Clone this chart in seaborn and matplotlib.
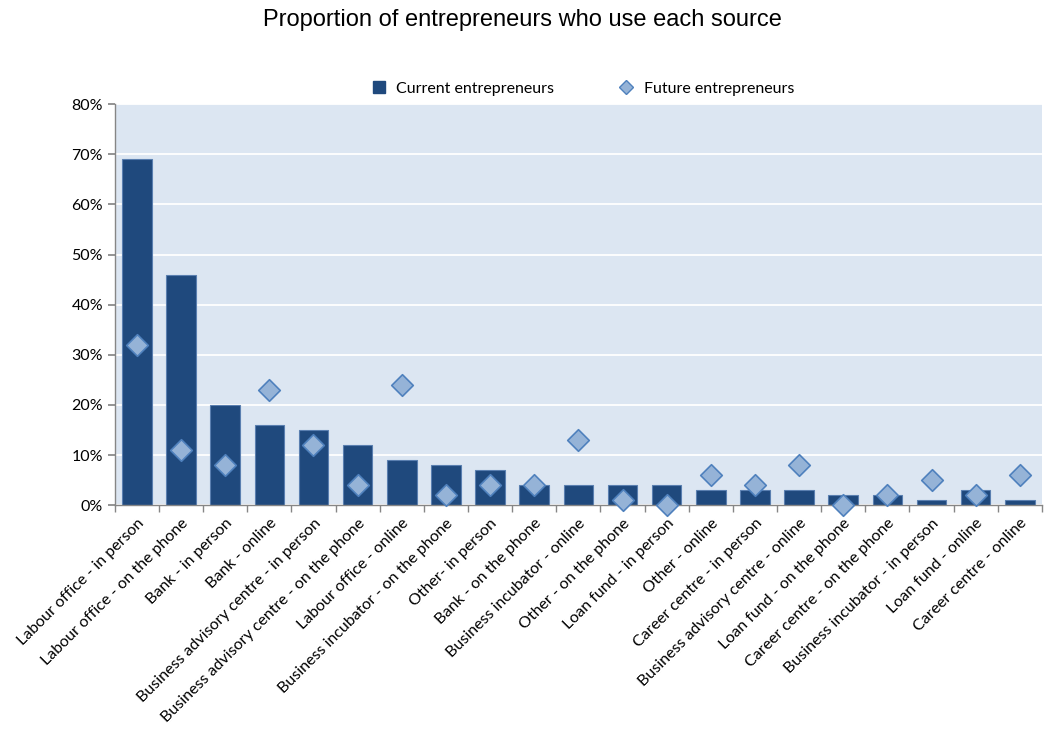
import numpy as np
import pandas as pd
import matplotlib
matplotlib.use("Agg")
import matplotlib.pyplot as plt
from matplotlib.lines import Line2D
from matplotlib.ticker import PercentFormatter, FixedLocator
import seaborn as sns

sources = [
    "Labour office - in person", "Labour office - on the phone", "Bank - in person",
    "Bank - online", "Business advisory centre - in person",
    "Business advisory centre - on the phone", "Labour office - online",
    "Business incubator - on the phone", "Other- in person", "Bank - on the phone",
    "Business incubator - online", "Other - on the phone", "Loan fund - in person",
    "Other - online", "Career centre - in person", "Business advisory centre - online",
    "Loan fund - on the phone", "Career centre - on the phone",
    "Business incubator - in person", "Loan fund - online", "Career centre - online",
]
current = [69, 46, 20, 16, 15, 12, 9, 8, 7, 4, 4, 4, 4, 3, 3, 3, 2, 2, 1, 3, 1]
future = [32, 11, 8, 23, 12, 4, 24, 2, 4, 4, 13, 1, 0, 6, 4, 8, 0, 2, 5, 2, 6]

df = pd.DataFrame({"source": sources, "current": current, "future": future})

sns.set_theme(style="white")
plt.rcParams['font.family'] = ['Lato', 'DejaVu Sans']
plt.rcParams['text.color'] = 'black'
plt.rcParams['xtick.color'] = 'black'
plt.rcParams['ytick.color'] = 'black'

dark = "#1F497D"
light = "#95B3D7"
edge = "#4F81BD"

fig = plt.figure(figsize=(10.44, 7.29), dpi=100)
ax = fig.add_axes([0.110, 0.307, 0.888, 0.550])
ax.set_facecolor("#DCE6F2")

sns.barplot(data=df, x="source", y="current", order=sources, color=dark,
            width=0.67, edgecolor="#5A7FB0", linewidth=0.8, saturation=1, ax=ax, zorder=2)
sns.stripplot(data=df, x="source", y="future", order=sources, jitter=False,
              marker="D", size=11, color=light, edgecolor=edge, linewidth=1.2,
              ax=ax, zorder=3, clip_on=False)

ax.set_ylim(0, 80)
ax.set_xlim(-0.5, len(sources) - 0.5)
ax.yaxis.set_major_locator(FixedLocator(np.arange(0, 81, 10)))
ax.yaxis.set_major_formatter(PercentFormatter(decimals=0))
ax.grid(axis="y", color="white", linewidth=1.3, zorder=1)
ax.set_axisbelow(True)

ax.set_xlabel("")
ax.set_ylabel("")
ax.set_xticks(range(len(sources)))
ax.set_xticklabels(sources, rotation=45, ha="right", rotation_mode="anchor", fontsize=11.5)
ax.xaxis.set_minor_locator(FixedLocator(np.arange(-0.5, len(sources), 1)))
ax.tick_params(axis="x", which="major", length=0, pad=8)
ax.tick_params(axis="x", which="minor", length=5, color="#868686", direction="out", bottom=True)
ax.tick_params(axis="y", length=5, color="#868686", direction="out", left=True, labelsize=11.5)

for s in ["top", "right"]:
    ax.spines[s].set_visible(False)
for s in ["left", "bottom"]:
    ax.spines[s].set_color("#868686")
    ax.spines[s].set_linewidth(1)

handles = [
    Line2D([], [], marker="s", linestyle="none", markersize=8, color=dark,
           markeredgecolor=dark, label="Current entrepreneurs"),
    Line2D([], [], marker="D", linestyle="none", markersize=7, color=light,
           markeredgecolor=edge, label="Future entrepreneurs"),
]
ax.legend(handles=handles, loc="lower center", bbox_to_anchor=(0.5, 0.985), ncol=2,
          frameon=False, fontsize=11.5, handletextpad=0.1, columnspacing=3.5)

fig.suptitle("Proportion of entrepreneurs who use each source", y=0.988,
             fontsize=17, color="black", family=["Liberation Sans", "DejaVu Sans"])

fig.savefig("out.png", dpi=100)
